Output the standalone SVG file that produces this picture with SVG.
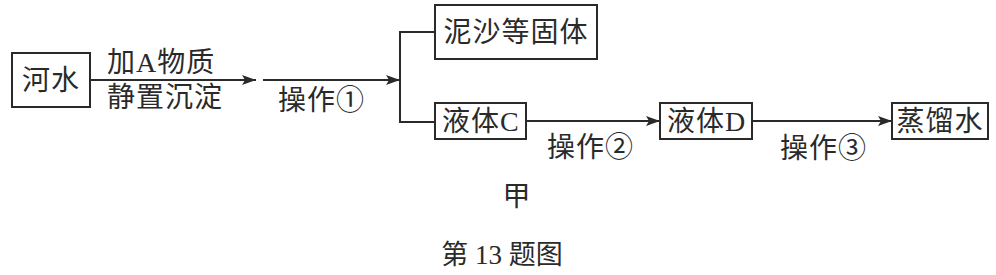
<svg xmlns="http://www.w3.org/2000/svg" width="996" height="275" viewBox="0 0 996 275">
<style>
text{font-family:"Liberation Serif","Noto Sans CJK SC",serif;font-size:28px;fill:#2a2a2a;letter-spacing:1px}
.box{fill:#fff;stroke:#2a2a2a;stroke-width:2}
.ln{fill:none;stroke:#2a2a2a;stroke-width:2}
.c{text-anchor:middle}
</style>
<defs>
<marker id="ah" viewBox="0 0 14 10" refX="14" refY="5" markerWidth="14" markerHeight="10" markerUnits="userSpaceOnUse" orient="auto">
<path d="M0,0 L14,5 L0,10 L3,5 Z" fill="#2a2a2a"/>
</marker>
</defs>
<rect width="996" height="275" fill="#fff"/>
<g id="connectors">
<line class="ln" x1="90" y1="80" x2="256" y2="80" marker-end="url(#ah)"/>
<line class="ln" x1="263" y1="80" x2="400" y2="80" marker-end="url(#ah)"/>
<polyline class="ln" points="435,32 400,32 400,122 435,122"/>
<line class="ln" x1="526" y1="121" x2="660" y2="121" marker-end="url(#ah)"/>
<line class="ln" x1="752" y1="121" x2="892" y2="121" marker-end="url(#ah)"/>
<text x="107" y="72">加A物质</text>
<text x="107" y="107">静置沉淀</text>
<text x="278" y="110">操作①</text>
<text x="547" y="157">操作②</text>
<text x="780" y="158">操作③</text>
</g>
<g id="n-heshui">
<rect class="box" x="12" y="53" width="78" height="54"/>
<text class="c" x="51" y="90">河水</text>
</g>
<g id="n-nisha">
<rect class="box" x="435" y="5" width="162" height="54"/>
<text class="c" x="516" y="42">泥沙等固体</text>
</g>
<g id="n-yetiC">
<rect class="box" x="435" y="103" width="91" height="36"/>
<text x="442" y="131">液体C</text>
</g>
<g id="n-yetiD">
<rect class="box" x="660" y="103" width="92" height="36"/>
<text x="667" y="131">液体D</text>
</g>
<g id="n-zhengliu">
<rect class="box" x="892" y="103" width="96" height="36"/>
<text class="c" x="940" y="131">蒸馏水</text>
</g>
<text class="c" x="517" y="206">甲</text>
<text class="c" x="502" y="264" style="font-size:27px;letter-spacing:0">第 13 题图</text>
</svg>
